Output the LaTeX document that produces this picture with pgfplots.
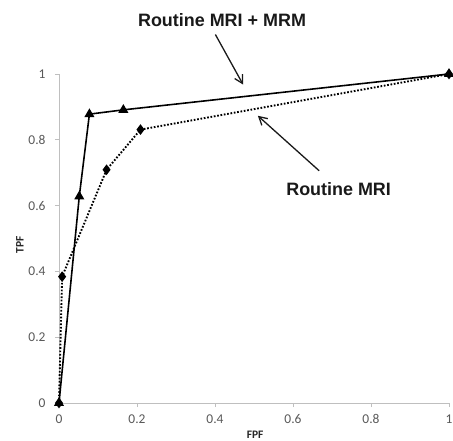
\documentclass[border=0pt]{standalone}
\usepackage{fontspec}
\setmainfont{Carlito}
\newfontfamily\arialfont{Liberation Sans}
\usepackage{pgfplots}
\pgfplotsset{compat=1.18}
\usetikzlibrary{arrows.meta}
\definecolor{axisgray}{HTML}{BFBFBF}
\definecolor{labgray}{HTML}{595959}
\begin{document}
\begin{tikzpicture}
\useasboundingbox (-59bp,-38bp) rectangle (394bp,403bp);
\begin{axis}[
  at={(0,0)}, anchor=south west,
  scale only axis, width=390bp, height=329bp,
  xmin=0, xmax=1, ymin=0, ymax=1,
  axis lines=left,
  axis line style={axisgray, line width=0.8pt, -},
  xtick={0,0.2,0.4,0.6,0.8,1},
  ytick={0,0.2,0.4,0.6,0.8,1},
  xticklabels={0,0.2,0.4,0.6,0.8,1},
  yticklabels={0,0.2,0.4,0.6,0.8,1},
  tick style={axisgray, line width=0.8pt},
  tick align=outside,
  major tick length=4bp,
  ticklabel style={font=\fontsize{13.5}{15}\selectfont, text=labgray},
  /pgf/number format/assume math mode=true,
  xticklabel style={yshift=-4bp},
  yticklabel style={xshift=-6bp},
  xlabel={\textbf{FPF}},
  ylabel={\textbf{TPF}},
  label style={font=\fontsize{11.5}{13}\selectfont, text=black!85},
  xlabel style={at={(axis description cs:0.503,-0.098)}, anchor=center},
  ylabel style={at={(axis description cs:-0.1,0.48)}, anchor=center},
  clip=false,
]
\addplot[black, line width=1.6pt, mark=triangle*, mark size=4.2bp, mark options={solid}]
  coordinates {(0,0) (0.052,0.628) (0.078,0.878) (0.165,0.891) (1,1)};
\addplot[black, line width=1.9pt, dash pattern=on 1.7pt off 1.7pt, mark=diamond*, mark size=3.8bp, mark options={solid}]
  coordinates {(0,0) (0.008,0.384) (0.122,0.709) (0.209,0.831) (1,1)};
\node[font=\arialfont\bfseries\fontsize{18}{20}\selectfont, text=black!90] at (axis cs:0.418,1.165) {Routine MRI + MRM};
\node[font=\arialfont\bfseries\fontsize{18}{20}\selectfont, text=black!90] at (axis cs:0.717,0.651) {Routine MRI};
\draw[-{Straight Barb[length=8bp,width=9bp]}, line width=1.3pt, black!90] (axis cs:0.401,1.120) -- (axis cs:0.472,0.968);
\draw[-{Straight Barb[length=8bp,width=9bp]}, line width=1.3pt, black!90] (axis cs:0.667,0.706) -- (axis cs:0.510,0.873);
\end{axis}
\end{tikzpicture}
\end{document}
